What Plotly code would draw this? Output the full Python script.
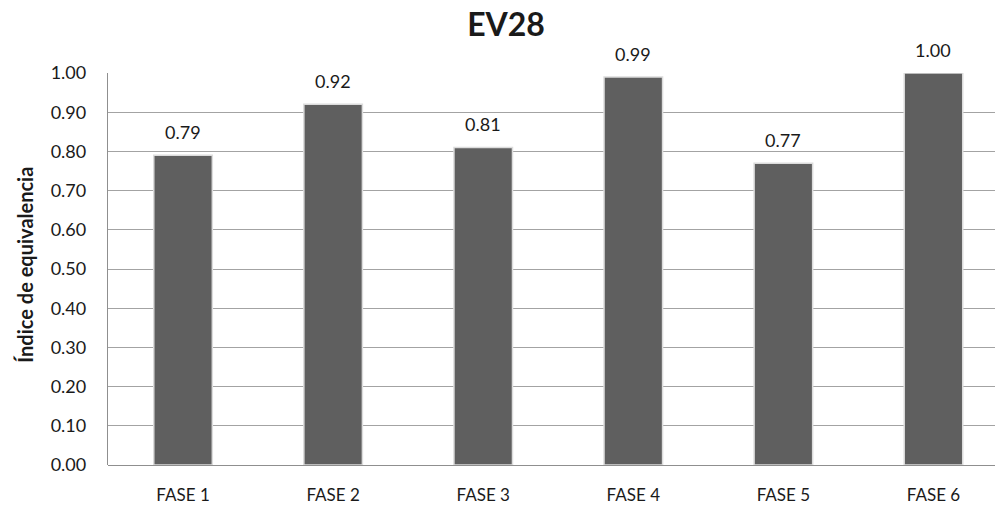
import plotly.graph_objects as go

# Equivalence index per phase
fases = ["FASE 1", "FASE 2", "FASE 3", "FASE 4", "FASE 5", "FASE 6"]
indice = [0.79, 0.92, 0.81, 0.99, 0.77, 1.00]
y_ticks = [0.0, 0.1, 0.2, 0.3, 0.4, 0.5, 0.6, 0.7, 0.8, 0.9, 1.0]

FONT = "Lato"
BAR = "#5f5f5f"
GRID = "#a3a3a3"

fig = go.Figure()
fig.add_trace(go.Bar(
    x=fases,
    y=indice,
    width=0.39,
    marker=dict(color=BAR, line=dict(color="#dcdcdc", width=1.5)),
    hoverinfo="x+y",
))

# value labels above each bar
for f, v in zip(fases, indice):
    fig.add_annotation(
        x=f, y=v, xref="x", yref="y",
        text=f"{v:.2f}", showarrow=False,
        yanchor="bottom", yshift=10,
        font=dict(family=FONT, size=18, color="#1a1a1a"),
    )

# axis title
fig.add_annotation(
    xref="paper", yref="paper", x=-0.094, y=0.51,
    text="<b>Índice de equivalencia</b>", textangle=-90,
    showarrow=False, xanchor="center", yanchor="middle",
    font=dict(family=FONT, size=20, color="#1a1a1a"),
)

fig.update_layout(
    width=995, height=513,
    margin=dict(l=108, r=0, t=73, b=48),
    paper_bgcolor="white", plot_bgcolor="white",
    showlegend=False,
    title=dict(
        text="<b>EV28</b>", x=506 / 995, xanchor="center",
        y=1 - 25 / 513, yanchor="middle",
        font=dict(family=FONT, size=32, color="#1a1a1a"),
    ),
    xaxis=dict(
        range=[-0.5, 5.41],
        showgrid=False, showline=False, zeroline=False,
        ticks="", ticklabelstandoff=18,
        tickfont=dict(family=FONT, size=17, color="#1a1a1a"),
    ),
    yaxis=dict(
        range=[0, 1.0], tickvals=y_ticks,
        tickformat=".2f",
        showgrid=True, gridcolor=GRID, gridwidth=1.3,
        showline=True, linecolor="#8f8f8f", linewidth=1.3,
        zeroline=True, zerolinecolor="#8f8f8f", zerolinewidth=1.3,
        ticks="", ticklabelstandoff=17,
        tickfont=dict(family=FONT, size=18, color="#1a1a1a"),
    ),
)

fig.write_html("out.html")
